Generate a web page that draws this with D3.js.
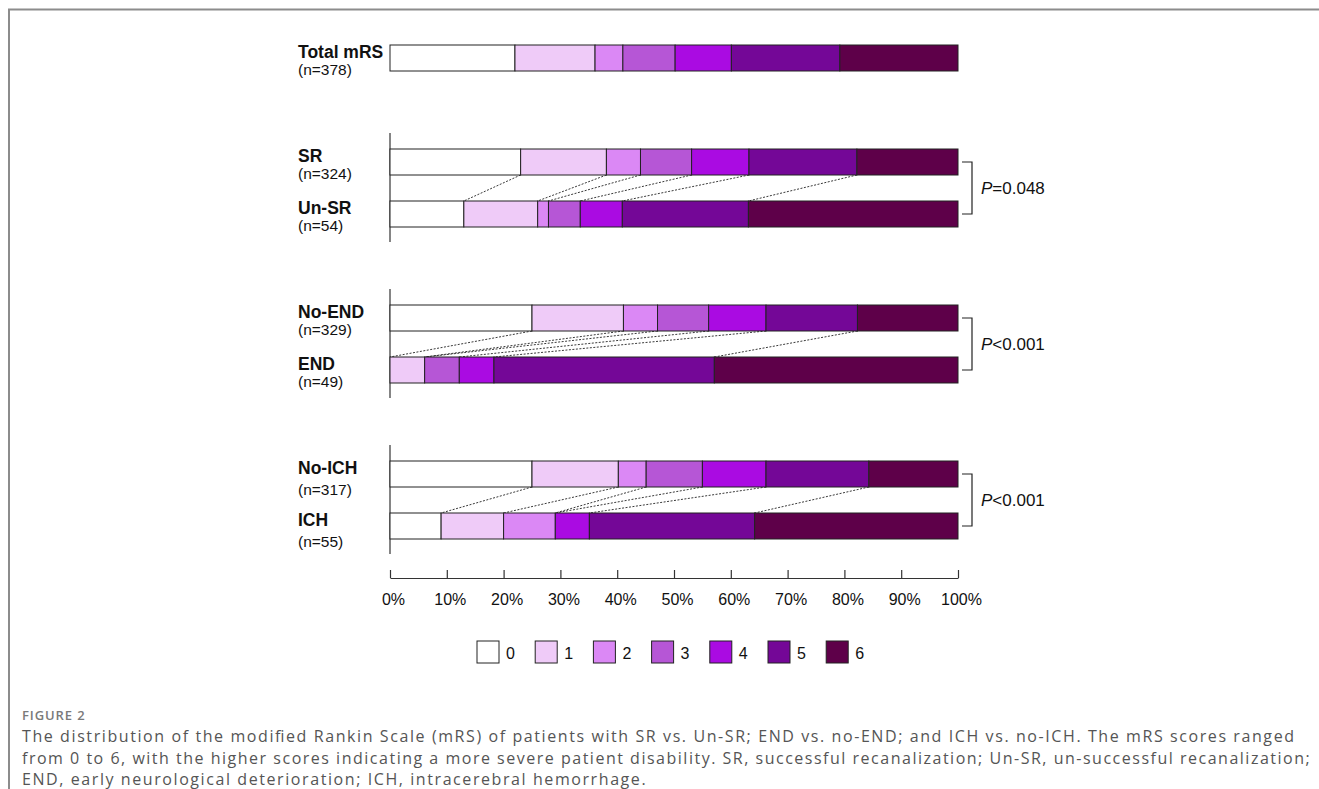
<!DOCTYPE html>
<html>
<head>
<meta charset="utf-8">
<script src="https://cdn.jsdelivr.net/npm/d3@7"></script>
<style>
  body { margin: 0; background: #ffffff; }
  svg { display: block; }
</style>
</head>
<body>
<svg id="chart" width="1319" height="789"></svg>
<script>
// mRS score categories and their fill colours
const scores = ["0", "1", "2", "3", "4", "5", "6"];
const scoreColors = ["#ffffff", "#efcbf8", "#db88f5", "#b656d6", "#aa0be2", "#740797", "#5e0049"];

// Row labels and patient counts
const rowLabels = ["Total mRS", "SR", "Un-SR", "No-END", "END", "No-ICH", "ICH"];
const rowCounts = [378, 324, 54, 329, 49, 317, 55];

// Percentage of patients at each mRS score (0..6) per row
const totalPct = [22.0, 14.1, 4.9, 9.2, 9.9, 19.1, 20.8];
const srPct    = [23.0, 15.1, 6.0, 9.0, 10.1, 19.0, 17.8];
const unSrPct  = [13.0, 13.0, 1.9, 5.6, 7.4, 22.2, 36.9];
const noEndPct = [25.0, 16.1, 6.0, 9.0, 10.1, 16.1, 17.7];
const endPct   = [0.0, 6.1, 0.0, 6.1, 6.1, 38.8, 42.9];
const noIchPct = [25.0, 15.2, 4.9, 9.9, 11.2, 18.1, 15.7];
const ichPct   = [9.0, 11.0, 9.1, 0.0, 6.0, 29.1, 35.8];
const rowValues = [totalPct, srPct, unSrPct, noEndPct, endPct, noIchPct, ichPct];

// Vertical slots (empty slots separate the groups)
const slotKeys = ["Total mRS", "gap-a", "SR", "Un-SR", "gap-b", "No-END", "END", "gap-c", "No-ICH", "ICH"];

// Pairwise comparisons and their P values
const comparisonTop = ["SR", "No-END", "No-ICH"];
const comparisonBottom = ["Un-SR", "END", "ICH"];
const pSigns = ["=", "<", "<"];
const pValues = ["0.048", "0.001", "0.001"];

// Axis ticks
const tickValues = [0, 10, 20, 30, 40, 50, 60, 70, 80, 90, 100];

const captionTitle = "FIGURE 2";
const captionLines = [
  "The distribution of the modified Rankin Scale (mRS) of patients with SR vs. Un-SR; END vs. no-END; and ICH vs. no-ICH. The mRS scores ranged",
  "from 0 to 6, with the higher scores indicating a more severe patient disability. SR, successful recanalization; Un-SR, un-successful recanalization;",
  "END, early neurological deterioration; ICH, intracerebral hemorrhage."
];

const svg = d3.select("#chart");
const FONT = "'Liberation Sans', Arial, sans-serif";
const CAPTION_FONT = "'Open Sans', 'Noto Sans', sans-serif";

// Figure frame
svg.append("path")
  .attr("d", "M9,789 V9.5 H1319")
  .attr("fill", "none")
  .attr("stroke", "#8c8c8c")
  .attr("stroke-width", 2);

const x = d3.scaleLinear().domain([0, 100]).range([390, 958]);
const y = d3.scaleBand().domain(slotKeys).range([45, 539]).paddingInner(0.5).paddingOuter(0);
const bh = y.bandwidth();

const cumulative = vals => {
  const out = [0];
  vals.forEach(v => out.push(out[out.length - 1] + v));
  return out;
};
const rowCum = rowValues.map(cumulative);
const cumOf = name => rowCum[rowLabels.indexOf(name)];

// Group axis lines on the left of each comparison
comparisonTop.forEach((top, i) => {
  const bottom = comparisonBottom[i];
  svg.append("line")
    .attr("x1", x(0)).attr("x2", x(0))
    .attr("y1", y(top) - 16).attr("y2", y(bottom) + bh + 15)
    .attr("stroke", "#333").attr("stroke-width", 1.2);
});

// Dashed connectors between matching score boundaries
comparisonTop.forEach((top, i) => {
  const bottom = comparisonBottom[i];
  const ct = cumOf(top), cb = cumOf(bottom);
  const g = svg.append("g");
  for (let k = 1; k < scores.length; k++) {
    g.append("line")
      .attr("x1", x(ct[k])).attr("y1", y(top) + bh)
      .attr("x2", x(cb[k])).attr("y2", y(bottom))
      .attr("stroke", "#222")
      .attr("stroke-width", 0.9)
      .attr("stroke-dasharray", "2,1.5");
  }
});

// Stacked bars
rowLabels.forEach((name, r) => {
  const cum = rowCum[r];
  const segs = rowValues[r].map((v, k) => ({ k, v, start: cum[k], end: cum[k + 1] })).filter(d => d.v > 0);
  svg.append("g").selectAll("rect").data(segs).join("rect")
    .attr("x", d => x(d.start))
    .attr("y", y(name))
    .attr("width", d => x(d.end) - x(d.start))
    .attr("height", bh)
    .attr("fill", d => scoreColors[d.k])
    .attr("stroke", "#222")
    .attr("stroke-width", 1);
});

// Row labels
rowLabels.forEach((name, r) => {
  const top = y(name);
  const gap = r >= 5 ? 28 : 24;
  svg.append("text")
    .attr("x", 298).attr("y", top + 7)
    .attr("dominant-baseline", "central")
    .attr("font-family", FONT).attr("font-size", 17.5).attr("font-weight", "bold")
    .attr("fill", "#111")
    .text(name);
  svg.append("text")
    .attr("x", 298).attr("y", top + gap)
    .attr("dominant-baseline", "central")
    .attr("font-family", FONT).attr("font-size", 15.5)
    .attr("fill", "#111")
    .text(`(n=${rowCounts[r]})`);
});

// Significance brackets
comparisonTop.forEach((top, i) => {
  const bottom = comparisonBottom[i];
  const yt = y(top) + bh / 2, yb = y(bottom) + bh / 2;
  svg.append("path")
    .attr("d", `M962,${yt} H972 V${yb} H962`)
    .attr("fill", "none").attr("stroke", "#222").attr("stroke-width", 1.2);
  const t = svg.append("text")
    .attr("x", 981).attr("y", (yt + yb) / 2)
    .attr("dominant-baseline", "central")
    .attr("font-family", FONT).attr("font-size", 17).attr("fill", "#111");
  t.append("tspan").attr("font-style", "italic").text("P");
  t.append("tspan").text(pSigns[i] + pValues[i]);
});

// Bottom percentage axis
const axis = d3.axisBottom(x)
  .tickValues(tickValues)
  .tickFormat(d => d + "%")
  .tickSizeInner(-8)
  .tickSizeOuter(0)
  .tickPadding(16);
const ax = svg.append("g").attr("transform", "translate(0,578)").call(axis);
ax.select(".domain").attr("stroke", "#333").attr("stroke-width", 1.2);
ax.selectAll(".tick line").attr("stroke", "#333").attr("stroke-width", 1.2);
ax.selectAll(".tick text")
  .attr("dx", 3)
  .attr("font-family", FONT).attr("font-size", 16).attr("fill", "#111");

// Legend
const legend = svg.append("g").attr("transform", "translate(477,641)");
const item = legend.selectAll("g").data(scores).join("g")
  .attr("transform", (d, i) => `translate(${i * 58.2},0)`);
item.append("rect")
  .attr("width", 22).attr("height", 22)
  .attr("fill", (d, i) => scoreColors[i])
  .attr("stroke", "#222").attr("stroke-width", 1);
item.append("text")
  .attr("x", 29).attr("y", 12)
  .attr("dominant-baseline", "central")
  .attr("font-family", FONT).attr("font-size", 16).attr("fill", "#111")
  .text(d => d);

// Caption
svg.append("text")
  .attr("x", 22).attr("y", 715)
  .attr("dominant-baseline", "central")
  .attr("font-family", CAPTION_FONT)
  .attr("font-size", 13).attr("font-weight", 600)
  .attr("letter-spacing", 0.9)
  .attr("fill", "#7a7a7a")
  .text(captionTitle);
const capLines = svg.append("g").selectAll("text").data(captionLines).join("text")
  .attr("x", 22).attr("y", (d, i) => 736 + i * 21.5)
  .attr("dominant-baseline", "central")
  .attr("font-family", CAPTION_FONT)
  .attr("font-size", 16)
  .attr("fill", "#555")
  .text(d => d);
// Widen caption lines uniformly so the first line spans the text block
const firstLen = capLines.node().getComputedTextLength();
const widen = 1272 / firstLen;
capLines.each(function () {
  const natural = this.getComputedTextLength();
  d3.select(this)
    .attr("textLength", natural * widen)
    .attr("lengthAdjust", "spacing");
});
</script>
</body>
</html>
